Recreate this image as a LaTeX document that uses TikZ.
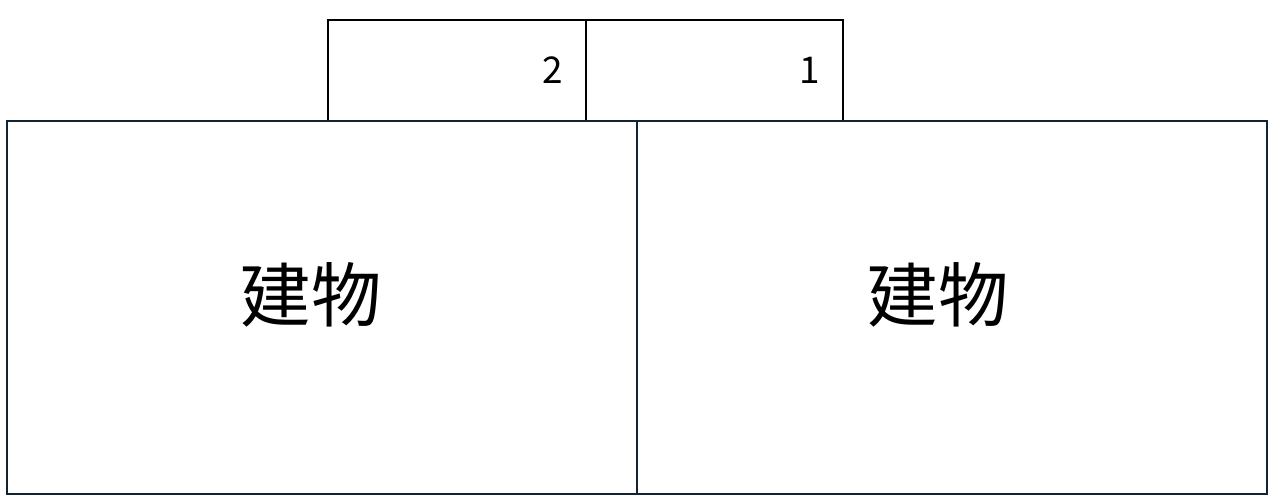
\documentclass[tikz,border=0pt]{standalone}
\usepackage{fontspec}
\setmainfont{Noto Sans CJK JP}
\definecolor{navyline}{RGB}{16,36,52}
\tikzset{
	bldg/.style={line width=0.5mm, color=navyline},
	slot/.style={line width=0.45mm, color=black},
	bldglabel/.style={font=\fontsize{40}{42}\selectfont, inner sep=0},
	slotlabel/.style={font=\fontsize{21}{24}\selectfont, inner sep=0}
}
\begin{document}
\begin{tikzpicture}[x=0.02cm, y=-0.02cm]
		%%%%% START %%%%%
		\useasboundingbox (0, 0) rectangle (1273, 501);
		
		% top slots
		\draw[slot] (328, 20) rectangle (586, 121);
		\draw[slot] (586, 20) rectangle (843, 121);
		\node[slotlabel] (slottwo) at (553, 70) {2};
		\node[slotlabel] (slotone) at (810, 70) {1};
		
		% buildings
		\draw[bldg] (7, 121) rectangle (637, 494);
		\draw[bldg] (637, 121) rectangle (1267, 494);
		\node[bldglabel] (bldgleft) at (311, 295) {建物};
		\node[bldglabel] (bldgright) at (938, 295) {建物};
		
		%%%%% END %%%%%
	\end{tikzpicture}
\end{document}
